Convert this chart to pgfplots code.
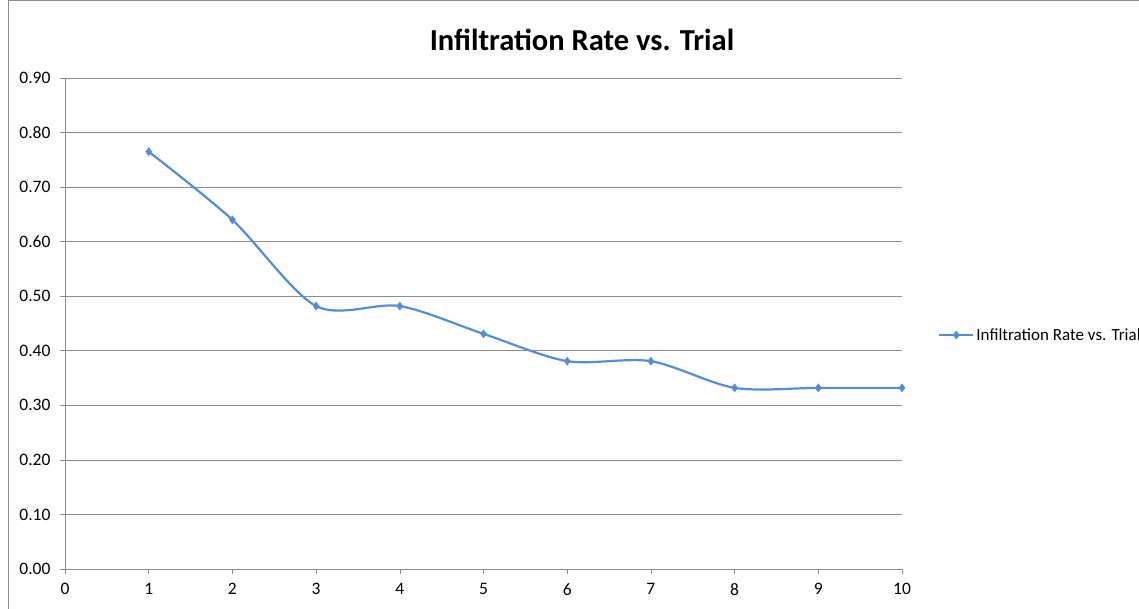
\documentclass[border=0pt]{standalone}
\usepackage{pgfplots}
\pgfplotsset{compat=1.18}
\usepackage{fontspec}
\setmainfont{Carlito}
\definecolor{ser}{RGB}{84,141,212}
\definecolor{grd}{RGB}{140,140,140}
\begin{document}
\begin{tikzpicture}
\useasboundingbox (0pt,0pt) rectangle (1139pt,608pt);
\draw[grd, line width=1pt] (8pt,-20pt) -- (8pt,607.5pt) -- (1160pt,607.5pt);
\node[font=\fontsize{30.5}{36}\selectfont\bfseries] at (582pt,568pt) {Infiltration Rate vs. Trial};
\begin{axis}[
  at={(65pt,39pt)}, anchor=south west,
  scale only axis, width=837pt, height=491pt,
  xmin=0, xmax=10, ymin=0, ymax=0.9,
  xtick={0,1,...,10}, ytick={0,0.1,...,0.9},
  axis x line=bottom, axis y line=left,
  axis line style={grd, -},
  every outer x axis line/.append style={-},
  every outer y axis line/.append style={-},
  ymajorgrids, grid style={grd, line width=0.6pt},
  tick style={grd, line width=0.6pt},
  tick align=outside, major tick length=5pt,
  yticklabel style={xshift=-6pt, /pgf/number format/.cd, fixed, fixed zerofill, precision=2},
  /pgf/number format/assume math mode=true,
  tick label style={font=\fontsize{17.5}{21}\selectfont, black},
  xticklabel style={yshift=-6pt},
  legend style={at={(1.043,0.4766)}, anchor=west, draw=none, fill=none,
    font=\fontsize{17}{20}\selectfont, inner sep=0pt},
  legend image code/.code={
    \draw[mark repeat=2,mark phase=2,#1] plot coordinates {(0pt,0pt) (17pt,0pt) (34pt,0pt)};},
  clip=false,
]
\addplot[color=ser, line width=2.2pt, smooth, tension=0.5, mark=diamond*, mark size=4pt, mark options={fill=ser, draw=ser, line width=0.5pt}]
coordinates {
(1,0.765) (2,0.640) (3,0.482) (4,0.482) (5,0.431) (6,0.381) (7,0.381) (8,0.332) (9,0.332) (10,0.332)
};
\addlegendentry{Infiltration Rate vs. Trial}
\end{axis}
\end{tikzpicture}
\end{document}
